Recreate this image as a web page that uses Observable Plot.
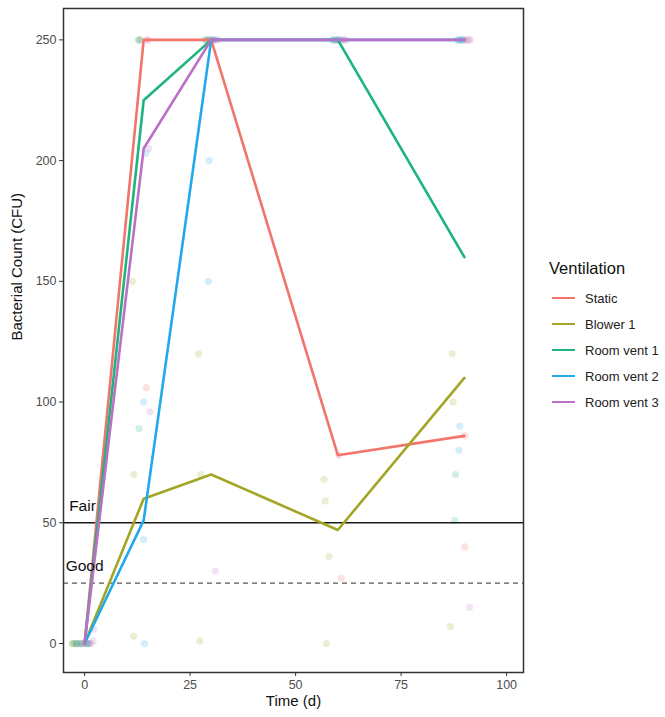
<!DOCTYPE html>
<html>
<head>
<meta charset="utf-8">
<script src="https://cdn.jsdelivr.net/npm/d3@7"></script>
<script src="https://cdn.jsdelivr.net/npm/@observablehq/plot@0.6"></script>
<style>
  body { margin: 0; background: #fff; font-family: "Liberation Sans", Arial, sans-serif; }
  #wrap { position: relative; width: 665px; height: 717px; overflow: hidden; }
  #legend { position: absolute; left: 549px; top: 259px; font-family: "Liberation Sans", Arial, sans-serif; white-space: nowrap; }
  #legend .title { font-size: 16.5px; color: #111; margin-bottom: 7px; }
  #legend .item { display: flex; align-items: center; height: 26px; font-size: 13px; color: #222; }
  #legend .key { width: 23px; height: 2.5px; margin: 0 10px 0 3px; flex: none; }
  g[aria-label="x-axis tick label"] text, g[aria-label="y-axis tick label"] text { fill: #4d4d4d; }
</style>
</head>
<body>
<div id="wrap">
  <div id="chart"></div>
  <div id="legend"></div>
</div>
<script>
// ---- data ----
const series = ["Static", "Blower 1", "Room vent 1", "Room vent 2", "Room vent 3"];
const colors = ["#F2746B", "#A3A526", "#1DB57C", "#22A9EC", "#BA70C6"];
const times = [0, 14, 30, 60, 90];

// summary lines (median count per sampling day)
const staticLine = [0, 250, 250, 78, 86];
const blower1Line = [0, 60, 70, 47, 110];
const roomVent1Line = [0, 225, 250, 250, 160];
const roomVent2Line = [0, 51, 250, 250, 250];
const roomVent3Line = [0, 205, 250, 250, 250];

// individual (jittered) observations: [day, count]
const staticPts = [[-2.5,0],[-1,0],[0.5,0],[1.5,0],[13,250],[15,250],[14.6,106],[29,250],[30.5,250],[31,250],[60.8,27],[61.5,250],[60.2,78],[90.1,86],[90.1,40],[91,250]];
const blower1Pts = [[-3,0],[-2,0],[-1.5,0],[0,0],[11.3,150],[11.7,70],[11.6,3],[27,120],[27.5,70],[27.3,1],[56.7,68],[57,59],[57.9,36],[57.3,0],[87.1,120],[87.3,100],[86.7,7]];
const roomVent1Pts = [[-2.8,0],[-1.8,0],[-0.5,0],[0.8,0],[12.7,250],[13.2,250],[12.9,89],[28.5,250],[29,250],[29.5,250],[58.7,250],[59.3,250],[60,250],[87.9,70],[87.7,51],[88.5,250],[89.5,250]];
const roomVent2Pts = [[-2,0],[-1,0],[0.3,0],[1,0],[14.2,0],[14,43],[14,100],[14.5,203],[29.3,150],[29.5,200],[30,250],[30.5,250],[59,250],[60,250],[60.5,250],[88.9,90],[88.7,80],[88.5,250],[89,250],[89.6,250]];
const roomVent3Pts = [[-0.5,0],[1,0],[2,1],[2.1,6],[14.8,250],[15.2,205],[15.5,96],[30,250],[31,30],[31.5,250],[60,250],[61,250],[61.8,250],[90,250],[90.5,250],[91.4,250],[91.2,15]];

const yTicks = [0, 50, 100, 150, 200, 250];
const xTicks = [0, 25, 50, 75, 100];
const thresholdFair = 50, thresholdGood = 25;

// ---- build tables ----
const lineSets = [staticLine, blower1Line, roomVent1Line, roomVent2Line, roomVent3Line];
const ptSets = [staticPts, blower1Pts, roomVent1Pts, roomVent2Pts, roomVent3Pts];
const lines = [];
lineSets.forEach((vals, i) => vals.forEach((v, j) => lines.push({series: series[i], day: times[j], count: v})));
const points = [];
ptSets.forEach((pts, i) => pts.forEach(([d, c]) => points.push({series: series[i], day: d, count: c})));

const chart = Plot.plot({
  width: 665,
  height: 717,
  marginLeft: 63,
  marginRight: 142,
  marginTop: 8,
  marginBottom: 45,
  style: {fontFamily: "Liberation Sans, Arial, sans-serif", background: "#fff"},
  x: {domain: [-5, 104]},
  y: {domain: [-12, 263]},
  color: {domain: series, range: colors},
  marks: [
    Plot.dot(points, {x: "day", y: "count", fill: "series", r: 3.6, fillOpacity: 0.2, stroke: null}),
    Plot.ruleY([thresholdFair], {stroke: "#1a1a1a", strokeWidth: 1.6}),
    Plot.ruleY([thresholdGood], {stroke: "#555", strokeWidth: 1.3, strokeDasharray: "5,4"}),
    Plot.line(lines, {x: "day", y: "count", stroke: "series", z: "series", strokeWidth: 2.6}),
    Plot.text(["Fair"], {x: -0.5, y: 57, text: d => d, fontSize: 15.5, fill: "#111"}),
    Plot.text(["Good"], {x: 0, y: 32, text: d => d, fontSize: 15.5, fill: "#111"}),
    Plot.frame({stroke: "#333", strokeWidth: 1.5}),
    Plot.axisX({ticks: xTicks, tickSize: 4, tickPadding: 4, fontSize: 12.5, label: null, stroke: "#333"}),
    Plot.axisY({ticks: yTicks, tickSize: 4, tickPadding: 3, fontSize: 12.5, label: null, stroke: "#333"}),
    Plot.text(["Time (d)"], {frameAnchor: "bottom", dy: 33, text: d => d, fontSize: 15, fill: "#111"}),
    Plot.text(["Bacterial Count (CFU)"], {frameAnchor: "left", dx: -46, rotate: -90, text: d => d, fontSize: 15, fill: "#111"})
  ]
});
document.getElementById("chart").appendChild(chart);

// legend
const lg = document.getElementById("legend");
const t = document.createElement("div");
t.className = "title"; t.textContent = "Ventilation";
lg.appendChild(t);
series.forEach((s, i) => {
  const it = document.createElement("div");
  it.className = "item";
  const k = document.createElement("div");
  k.className = "key"; k.style.background = colors[i];
  const l = document.createElement("span");
  l.textContent = s;
  it.appendChild(k); it.appendChild(l);
  lg.appendChild(it);
});
</script>
</body>
</html>
